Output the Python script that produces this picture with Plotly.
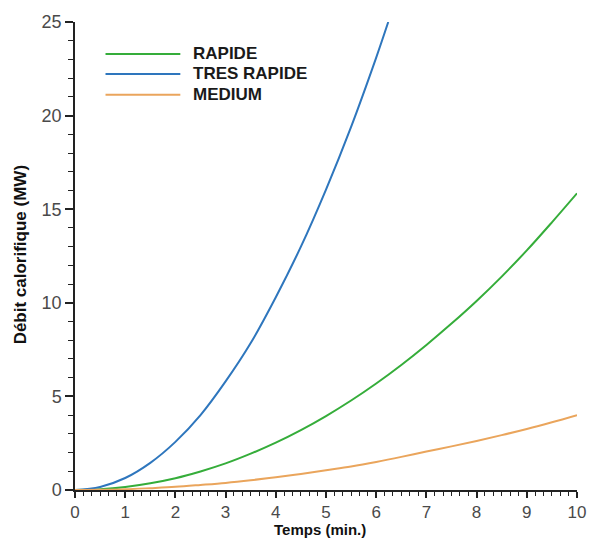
import plotly.graph_objects as go

# Heat release rate growth curves (MW) versus time (min.)
t_tres_rapide = [0, 0.5, 1, 1.5, 2, 2.5, 3, 3.5, 4, 4.5, 5, 5.5, 6, 6.24]
q_tres_rapide = [0, 0.16, 0.64, 1.45, 2.57, 4.0, 5.8, 7.85, 10.3, 13.0, 16.05, 19.4, 23.1, 25.0]

t_rapide = [0, 0.5, 1, 1.5, 2, 2.5, 3, 3.5, 4, 4.5, 5, 5.5, 6, 6.5, 7, 7.5, 8, 8.5, 9, 9.5, 10]
q_rapide = [0, 0.04, 0.16, 0.36, 0.63, 0.99, 1.42, 1.94, 2.53, 3.2, 3.95, 4.78, 5.69,
            6.68, 7.75, 8.89, 10.1, 11.4, 12.8, 14.3, 15.85]

t_medium = [0, 0.5, 1, 1.5, 2, 2.5, 3, 3.5, 4, 4.5, 5, 5.5, 6, 6.5, 7, 7.5, 8, 8.5, 9, 9.5, 10]
q_medium = [0, 0.01, 0.04, 0.1, 0.17, 0.27, 0.38, 0.52, 0.68, 0.86, 1.06, 1.26, 1.5,
            1.77, 2.06, 2.33, 2.62, 2.93, 3.26, 3.62, 4.0]

series_names = ["RAPIDE", "TRES RAPIDE", "MEDIUM"]
series_colors = ["#35ad3a", "#2e76bd", "#eaa55c"]

x_ticks = list(range(0, 11))
y_ticks = [0, 5, 10, 15, 20, 25]

fig = go.Figure()
for name, color, xs, ys in [
    (series_names[0], series_colors[0], t_rapide, q_rapide),
    (series_names[1], series_colors[1], t_tres_rapide, q_tres_rapide),
    (series_names[2], series_colors[2], t_medium, q_medium),
]:
    fig.add_trace(go.Scatter(x=xs, y=ys, mode="lines", name=name,
                             line=dict(color=color, width=2, shape="spline"),
                             showlegend=False))

tick_font = dict(family="Liberation Sans, Arial, sans-serif", size=18, color="#4a4a4a")

fig.update_xaxes(
    range=[0, 10], tickvals=x_ticks, ticktext=[str(v) for v in x_ticks],
    showline=True, linecolor="#222", linewidth=1.5,
    ticks="outside", ticklen=6, tickwidth=1.5, tickcolor="#222",
    minor=dict(dtick=1/6, ticks="outside", ticklen=4, tickwidth=1, tickcolor="#222"),
    showgrid=False, zeroline=False,
    tickfont=dict(family="Liberation Sans, Arial, sans-serif", size=17, color="#4a4a4a"),
)
fig.update_yaxes(
    range=[0, 25], tickvals=y_ticks, ticktext=[str(v) for v in y_ticks],
    showline=True, linecolor="#222", linewidth=1.5,
    ticks="outside", ticklen=8, tickwidth=1.5, tickcolor="#222",
    minor=dict(dtick=1, ticks="outside", ticklen=5, tickwidth=1, tickcolor="#222"),
    showgrid=False, zeroline=False, tickfont=tick_font,
)

L, R, T, B = 75, 13, 21, 48
W, H = 598, 538
pw, ph = W - L - R, H - T - B


def px_x(px):
    return (px - L) / pw


def px_y(py):
    return (H - B - py) / ph


title_font = dict(family="Liberation Sans, Arial, sans-serif", size=15, color="#111")
annotations = [
    dict(text="<b>Temps (min.)</b>", x=px_x(324), y=px_y(530), xref="paper", yref="paper",
         xanchor="center", yanchor="middle", showarrow=False, font=title_font),
    dict(text="<b>Débit calorifique (MW)</b>", x=px_x(20), y=px_y(254), xref="paper", yref="paper",
         xanchor="center", yanchor="middle", showarrow=False, textangle=-90,
         font=dict(family="Liberation Sans, Arial, sans-serif", size=17, color="#111")),
]

# Hand-drawn legend block
shapes = []
legend_rows = [53, 73, 94]
for name, color, row in zip(series_names, series_colors, legend_rows):
    shapes.append(dict(type="line", xref="paper", yref="paper",
                       x0=px_x(106), x1=px_x(182), y0=px_y(row), y1=px_y(row),
                       line=dict(color=color, width=2)))
    annotations.append(dict(text=f"<b>{name}</b>", x=px_x(193), y=px_y(row),
                            xref="paper", yref="paper", xanchor="left", yanchor="middle",
                            showarrow=False,
                            font=dict(family="Liberation Sans, Arial, sans-serif",
                                      size=17, color="#1a1a1a")))

fig.update_layout(
    width=W, height=H,
    margin=dict(l=L, r=R, t=T, b=B),
    plot_bgcolor="white", paper_bgcolor="white",
    annotations=annotations, shapes=shapes,
    showlegend=False,
)

fig.write_html("out.html")
